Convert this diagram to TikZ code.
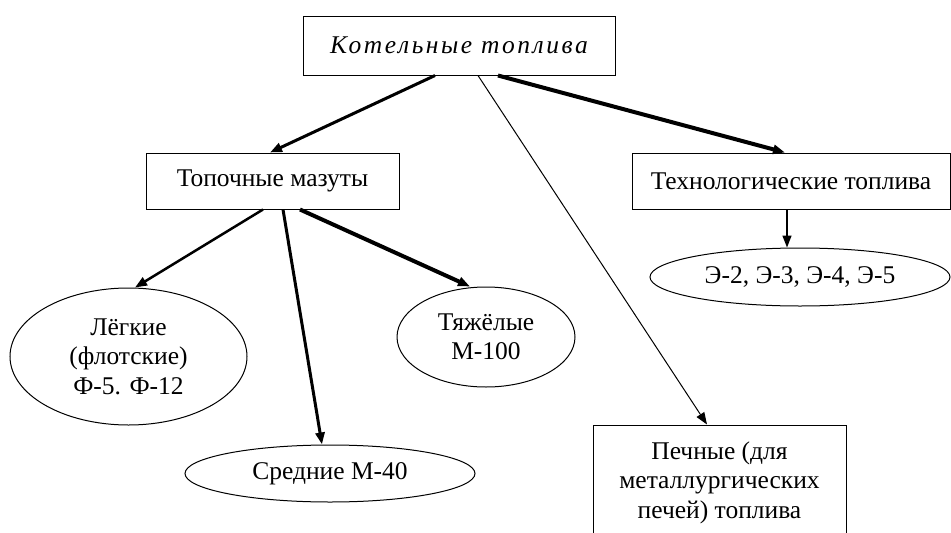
\documentclass[tikz,border=0pt]{standalone}
\usepackage{fontspec}
\setmainfont{Liberation Serif}
\usetikzlibrary{arrows.meta,shapes.geometric}
\begin{document}
\begin{tikzpicture}[x=1pt,y=-1pt,
  every node/.style={font=\fontsize{25.5}{29.5}\selectfont, align=center, inner sep=0pt},
  boxnode/.style={draw, rectangle, line width=1pt},
  ellnode/.style={draw, ellipse, line width=1pt},
  arr/.style={-{Triangle[length=12pt,width=9pt]}},
]
\clip (0,0) rectangle (951,533);
\fill[white] (0,0) rectangle (951,533);
% nodes
\node[boxnode, minimum width=312, minimum height=59] (top) at (459,45.5)
  {\addfontfeatures{LetterSpace=10}\itshape Котельные топлива};
\node[boxnode, minimum width=253, minimum height=56] (mazut) at (272.5,181) {Топочные мазуты};
\node[boxnode, minimum width=318, minimum height=56] (tech) at (791,181) {Технологические топлива};
\node[ellnode, minimum width=300, minimum height=58] (e) at (800,277) {Э-2, Э-3, Э-4, Э-5};
\node[ellnode, minimum width=237, minimum height=137] (light) at (128.5,356.5) {Лёгкие\\(флотские)\\Ф-5. Ф-12};
\node[ellnode, minimum width=178, minimum height=100] (heavy) at (486,337) {Тяжёлые\\М-100};
\node[ellnode, minimum width=290, minimum height=57] (mid) at (330,473.5) {Средние М-40};
\node[boxnode, minimum width=253, minimum height=115] (pech) at (719.5,482.5) {Печные (для\\металлургических\\печей) топлива};
% connectors
\draw[arr, line width=3pt] ([xshift=-24]top.south) -- ([xshift=-2.5]mazut.north);
\draw[arr, line width=4pt] ([xshift=39]top.south) -- ([xshift=-6]tech.north);
\draw[arr, line width=1pt] ([xshift=19]top.south) -- ([xshift=-12.5]pech.north);
\draw[arr, line width=1.5pt] ([xshift=-4]tech.south) -- ([xshift=-13]e.north);
\draw[arr, line width=2.5pt] ([xshift=-9.5]mazut.south) -- ([xshift=6.5]light.north);
\draw[arr, line width=3pt] ([xshift=10.5]mazut.south) -- ([xshift=-8]mid.north);
\draw[arr, line width=4pt] ([xshift=27.5]mazut.south) -- ([xshift=-16]heavy.north);
\end{tikzpicture}
\end{document}
